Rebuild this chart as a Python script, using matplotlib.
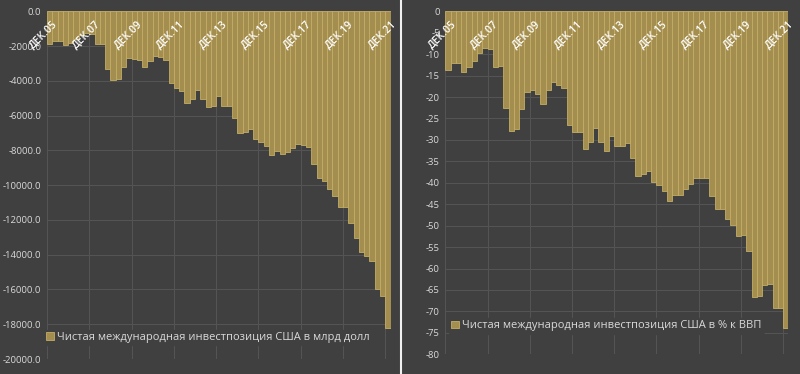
import matplotlib.pyplot as plt
from matplotlib.lines import Line2D
import numpy as np

# quarterly, Q4 2005 .. Q4 2021
niip_bn = [-1879, -1727, -1727, -1950, -1840, -1600, -1380, -1250, -1290, -1870,
           -1860, -3316, -3949, -3872, -3220, -2684, -2722, -2800, -3220, -2856,
           -2569, -2645, -2800, -4140, -4430, -4560, -5250, -5040, -4520, -5020,
           -5480, -5440, -4900, -5440, -5440, -6150, -6980, -6940, -6790, -7360,
           -7510, -7745, -8240, -8050, -8200, -8070, -7880, -7630, -7700, -7780,
           -8780, -9600, -9740, -10227, -10610, -11265, -11265, -12166, -13066, -13833,
           -14064, -14370, -15980, -16400, -18210]
niip_pct = [-13.7, -12.0, -12.0, -14.2, -12.9, -11.5, -9.8, -8.6, -8.9, -12.9,
            -12.7, -22.6, -28.0, -27.4, -22.7, -18.9, -18.4, -19.2, -21.6, -18.4,
            -16.5, -17.3, -18.0, -26.6, -28.2, -28.2, -32.1, -30.5, -27.3, -30.4,
            -32.6, -29.1, -31.5, -31.5, -30.8, -34.3, -38.4, -37.9, -37.2, -39.7,
            -40.5, -41.8, -44.2, -42.9, -42.9, -41.5, -40.2, -38.8, -38.8, -38.8,
            -43.1, -46.0, -46.2, -48.4, -49.9, -52.4, -52.1, -56.0, -66.7, -66.4,
            -63.9, -63.7, -69.2, -69.1, -73.9]
tick_labels = ['ДЕК.05', 'ДЕК.07', 'ДЕК.09', 'ДЕК.11', 'ДЕК.13',
               'ДЕК.15', 'ДЕК.17', 'ДЕК.19', 'ДЕК.21']
legend_bn = 'Чистая международная инвестпозиция США в млрд долл'
legend_pct = 'Чистая международная инвестпозиция США в % к ВВП'

BG = '#404040'
GRID = '#555555'
GOLD = '#a38d4f'
EDGE = '#c4ae66'
TXT = '#d9d9d9'

plt.rcParams['font.family'] = ['Open Sans', 'DejaVu Sans']

fig = plt.figure(figsize=(8, 3.74), dpi=100, facecolor=BG)
ax1 = fig.add_axes([0.0588, 0.0401, 0.4295, 0.9297])
ax2 = fig.add_axes([0.5566, 0.0527, 0.4290, 0.9171])


def draw(ax, vals, ymin, step, fmt, label, leg_anchor):
    n = len(vals)
    x = np.arange(n)
    ax.set_facecolor(BG)
    ax.bar(x, vals, width=1.0, color=GOLD, edgecolor=EDGE, linewidth=0.6,
           label=label, zorder=2)
    ax.set_xlim(-0.5, n - 0.5)
    ax.set_ylim(ymin, 0)
    yt = np.arange(ymin, step / 2, step)
    ax.set_yticks(yt)
    ax.set_yticklabels([fmt % v for v in yt], color=TXT, fontsize=6.8)
    ax.set_xticks(np.arange(-0.5, n - 1, 8))
    ax.set_xticklabels([])
    ax.tick_params(length=0, pad=4)
    ax.grid(True, color=GRID, linewidth=0.7, zorder=0)
    ax.set_axisbelow(True)
    for s in ax.spines.values():
        s.set_visible(False)
    for i, lab in enumerate(tick_labels):
        ax.annotate(lab, xy=(i * 8 + 0.5, 0), xytext=(2.5, -8),
                    textcoords='offset points', rotation=45,
                    rotation_mode='anchor', ha='right', va='center',
                    color='white', fontsize=7.5, fontweight='semibold', zorder=3)
    leg = ax.legend(loc='lower left', bbox_to_anchor=leg_anchor, frameon=True,
                    facecolor=BG, edgecolor=BG, framealpha=1, fontsize=8,
                    handlelength=0.7, handleheight=0.7, handletextpad=0.3,
                    borderpad=0.2, borderaxespad=0)
    for t in leg.get_texts():
        t.set_color(TXT)


draw(ax1, niip_bn, -20000, 2000, '%.1f', legend_bn, (-0.01, 0.04))
draw(ax2, niip_pct, -80, 5, '%d', legend_pct, (0.01, 0.06))

fig.add_artist(Line2D([401.5 / 800, 401.5 / 800], [0, 1], color='#f0f0f0',
                      linewidth=1.5, transform=fig.transFigure))

fig.savefig('out.png', dpi=100, facecolor=BG)
